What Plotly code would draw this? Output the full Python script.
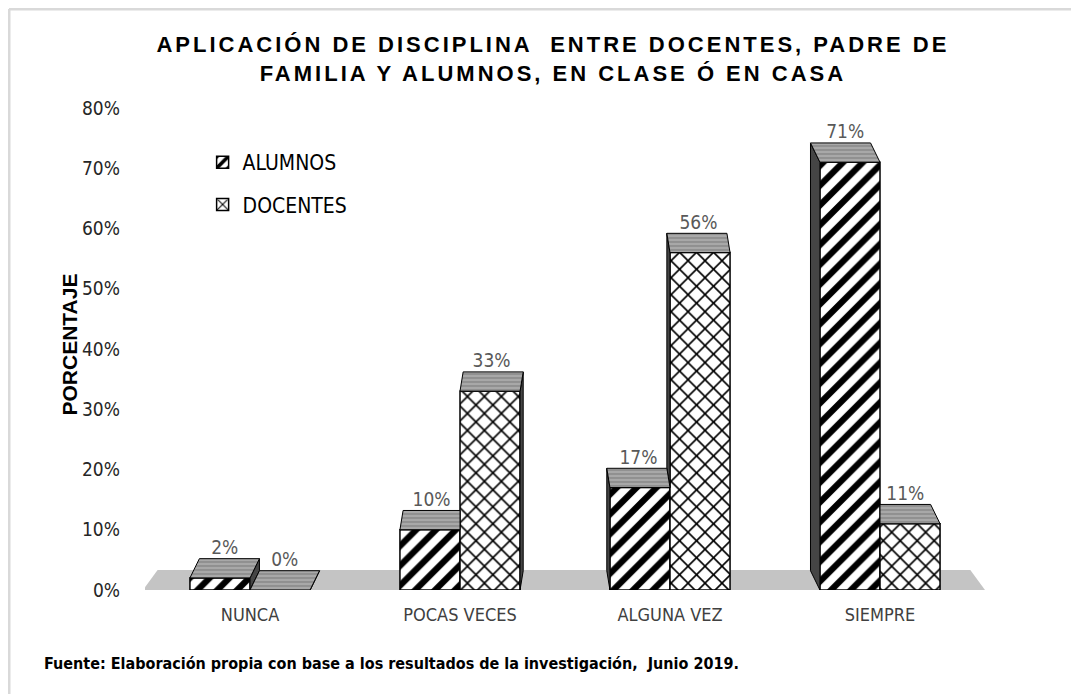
import plotly.graph_objects as go

categories = ["NUNCA", "POCAS VECES", "ALGUNA VEZ", "SIEMPRE"]
alumnos = [0.02, 0.10, 0.17, 0.71]
docentes = [0.00, 0.33, 0.56, 0.11]
y_ticks = [0, 0.1, 0.2, 0.3, 0.4, 0.5, 0.6, 0.7, 0.8]

NARROW = "Liberation Sans Narrow, Arial Narrow, DejaVu Sans Condensed, sans-serif"
ARIAL = "Liberation Sans, Arial, sans-serif"

W = 0.286          # bar width (category units)
D = 0.032          # 3D depth in y units
xs = list(range(len(categories)))
shift = [(1.5 - i) * 0.03 for i in xs]   # perspective shift of the back edge

fig = go.Figure()

fig.add_trace(go.Bar(
    x=xs, y=alumnos, name="ALUMNOS", width=W, offset=-W,
    marker=dict(color="white", line=dict(color="black", width=1.5),
                pattern=dict(shape="/", fgcolor="black", bgcolor="white",
                             fgopacity=1, fillmode="replace",
                             size=14, solidity=0.45)),
    legendgroup="a", hoverinfo="skip"))
fig.add_trace(go.Bar(
    x=xs, y=docentes, name="DOCENTES", width=W, offset=0,
    marker=dict(color="white", line=dict(color="black", width=1.5),
                pattern=dict(shape="x", fgcolor="black", bgcolor="white",
                             fgopacity=1, fillmode="replace",
                             size=12, solidity=0.25)),
    legendgroup="d", hoverinfo="skip"))

# --- 3D decoration built from the data values ---
top_x, top_y, side_x, side_y = [], [], [], []
lab_x, lab_y, lab_t = [], [], []
for i in xs:
    s = shift[i]
    va, vd = alumnos[i], docentes[i]
    xa0, xc, xd1 = i - W, i, i + W
    if s > 0 and vd > va:
        px = [xa0, xc, xc, xa0 + s, xa0]
    else:
        px = [xa0, xc, xc + s, xa0 + s, xa0]
    py = [va, va, va + D, va + D, va]
    top_x += px + [None]; top_y += py + [None]
    if s < 0 and va > vd:
        px = [xc, xd1, xd1 + s, xc, xc]
    else:
        px = [xc, xd1, xd1 + s, xc + s, xc]
    py = [vd, vd, vd + D, vd + D, vd]
    top_x += px + [None]; top_y += py + [None]
    if s < 0:
        faces = [(xa0, 0, va)]
        if vd > va:
            faces.append((xc, va, vd))
    else:
        faces = [(xd1, 0, vd)]
        if va > vd:
            faces.append((xc, vd, va))
    for (xe, lo, hi) in faces:
        side_x += [xe, xe, xe + s, xe + s, xe, None]
        side_y += [lo, hi, hi + D, lo + D, lo, None]
    lab_x += [i - W / 2 + s / 2, i + W / 2 + s / 2]
    lab_y += [va + D, vd + D]
    lab_t += [f"{round(va*100)}%", f"{round(vd*100)}%"]

fig.add_trace(go.Scatter(
    x=side_x, y=side_y, mode="lines", fill="toself", fillcolor="#454545",
    line=dict(color="black", width=1), showlegend=False, hoverinfo="skip"))
fig.add_trace(go.Scatter(
    x=top_x, y=top_y, mode="lines", fill="toself", fillcolor="#8f8f8f",
    fillpattern=dict(shape="-", fgcolor="#5a5a5a", bgcolor="#a8a8a8", size=4, solidity=0.3),
    line=dict(color="black", width=1), showlegend=False, hoverinfo="skip"))
fig.add_trace(go.Scatter(
    x=lab_x, y=lab_y, mode="text", text=lab_t, textposition="top center",
    textfont=dict(family=NARROW, size=19, color="#595959"),
    showlegend=False, hoverinfo="skip"))

# page is offset by the 8px body margin: plot area spans page x 145..985, y 108..590
L, T, PW, PH = 137, 100, 840, 482
fx = lambda px: (px - L) / PW          # figure px -> paper x
fy = lambda py: (T + PH - py) / PH     # figure px -> paper y

title_txt = ('<span style="letter-spacing:3px">APLICACIÓN DE DISCIPLINA  ENTRE DOCENTES, PADRE DE</span><br>'
             '<span style="letter-spacing:3px">FAMILIA Y ALUMNOS, EN CLASE Ó EN CASA</span>')

fig.update_layout(
    width=1079, height=694,
    margin=dict(l=L, r=1079 - L - PW, t=T, b=694 - T - PH),
    paper_bgcolor="white", plot_bgcolor="white",
    barmode="overlay",
    title=dict(text=title_txt,
               x=0.505, xanchor="center", y=1 - 44 / 694, yanchor="top",
               font=dict(family=ARIAL, size=22, color="black", weight="bold")),
    showlegend=True,
    legend=dict(x=0.0686, y=fy(142 - 8), xanchor="left", yanchor="top",
                font=dict(family=NARROW, size=21, color="black"),
                traceorder="grouped", tracegroupgap=12,
                bgcolor="rgba(0,0,0,0)", itemwidth=30),
    xaxis=dict(range=[-0.5, 3.5], tickvals=xs, ticktext=categories,
               showgrid=False, zeroline=False, showline=False, ticks="",
               tickfont=dict(family=NARROW, size=18, color="#404040"),
               ticklabelstandoff=12),
    yaxis=dict(range=[0, 0.8], tickvals=y_ticks, tickformat=".0%",
               showgrid=False, zeroline=False, showline=False, ticks="",
               tickfont=dict(family=NARROW, size=19, color="#262626"),
               ticklabelstandoff=24),
    shapes=[
        dict(type="path", xref="x", yref="y", layer="below",
             path="M -0.51,0 L -0.44,0.033 L 3.43,0.033 L 3.5,0 Z",
             fillcolor="#c4c4c4", line=dict(width=0)),
        dict(type="line", xref="paper", yref="paper", x0=fx(1), x1=fx(1100),
             y0=fy(1), y1=fy(1), line=dict(color="#d9d9d9", width=3)),
        dict(type="line", xref="paper", yref="paper", x0=fx(1), x1=fx(1),
             y0=fy(1), y1=fy(720), line=dict(color="#d9d9d9", width=3)),
    ],
    annotations=[
        dict(text="PORCENTAJE", textangle=-90, xref="paper", yref="paper",
             x=fx(55 - 8), y=fy(345 - 8), showarrow=False,
             font=dict(family=ARIAL, size=21, color="black", weight="bold")),
        dict(text="Fuente: Elaboración propia con base a los resultados de la investigación,  Junio 2019.",
             xref="paper", yref="paper", x=fx(42 - 8), y=fy(663 - 8), xanchor="left",
             yanchor="middle", showarrow=False,
             font=dict(family=NARROW, size=16, color="black", weight="bold")),
    ],
)

fig.write_html("out.html")
